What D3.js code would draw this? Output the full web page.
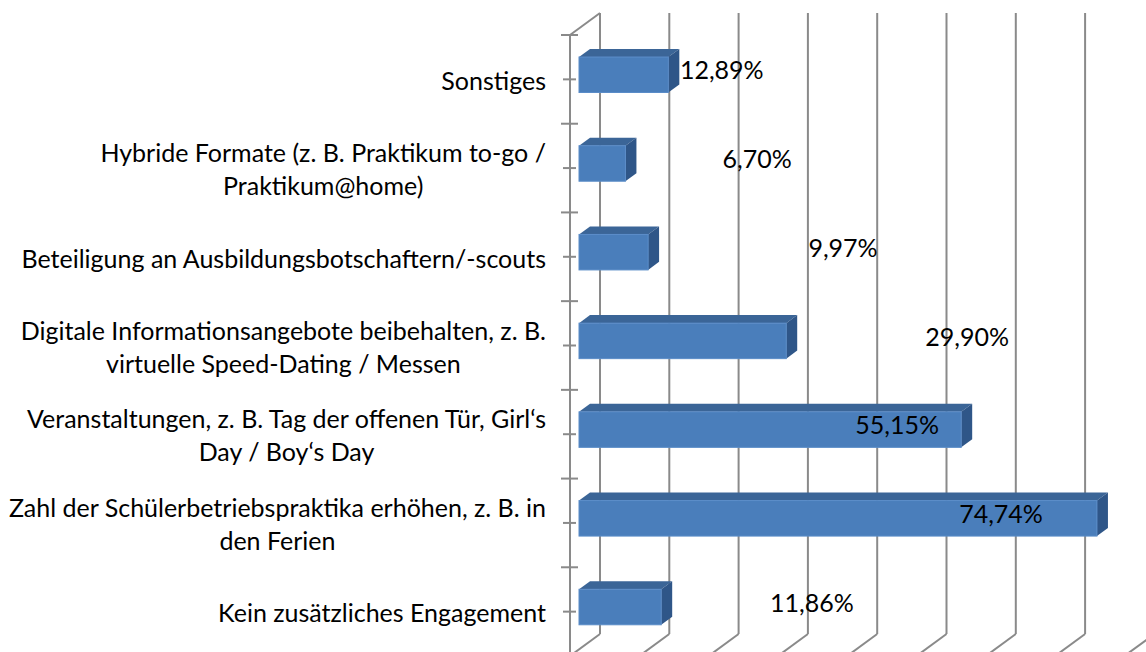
<!DOCTYPE html>
<html>
<head>
<meta charset="utf-8">
<script src="https://cdn.jsdelivr.net/npm/d3@7"></script>
<style>
    body { margin: 0; background: #fff; }
    svg { display: block; font-family: Lato, 'Open Sans', sans-serif; }
</style>
</head>
<body>
<svg width="1146" height="652"></svg>
<script>
// Categories top to bottom (line breaks as in the picture)
const categories = [
    'Sonstiges',
    'Hybride Formate (z. B. Praktikum to-go /\nPraktikum@home)',
    'Beteiligung an Ausbildungsbotschaftern/-scouts',
    'Digitale Informationsangebote beibehalten, z. B.\nvirtuelle Speed-Dating / Messen',
    'Veranstaltungen, z. B. Tag der offenen Tür, Girl‘s\nDay / Boy‘s Day',
    'Zahl der Schülerbetriebspraktika erhöhen, z. B. in\nden Ferien',
    'Kein zusätzliches Engagement'
];
const values = [12.89, 6.70, 9.97, 29.90, 55.15, 74.74, 11.86];
const valueLabels = ['12,89%', '6,70%', '9,97%', '29,90%', '55,15%', '74,74%', '11,86%'];
// where the (manually moved) data labels sit, in axis units
const labelAt = [20.6, 25.7, 38.1, 56.0, 45.9, 60.9, 33.6];
const gridTicks = [0, 10, 20, 30, 40, 50, 60, 70, 80];

function drawChart() {
    const svg = d3.select('svg');
    const top = 35, bottom = 656, left = 570;
    const depth = 30;          // oblique depth of the plot
    const k = 22 / 30;         // vertical rise per unit of depth
    const barFront = 9, barBack = 20;
    const fontSize = '25px';

    const xScale = d3.scaleLinear()
        .domain([0, 80])
        .range([left, left + 554.4]);
    const yBand = d3.scaleBand()
        .domain(categories)
        .range([top, bottom]);
    const yScale = d3.scaleBand()
        .domain(categories)
        .range([top + 2, bottom + 2])
        .paddingInner(0.6)
        .paddingOuter(0.3);

    // projection: value / y on front plane, plus depth d
    const px = (x, d) => x + d;
    const py = (y, d) => y - d * k;

    const grid = svg.append('g')
        .attr('stroke', '#8a8a8a')
        .attr('stroke-width', 2)
        .attr('fill', 'none');

    // back wall gridlines
    grid.selectAll('.gridline')
        .data(gridTicks)
        .join('line')
        .attr('class', 'gridline')
        .attr('x1', d => px(xScale(d), depth))
        .attr('x2', d => px(xScale(d), depth))
        .attr('y1', py(top, depth))
        .attr('y2', py(bottom, depth));

    // floor lines
    grid.selectAll('.floorline')
        .data(gridTicks)
        .join('line')
        .attr('class', 'floorline')
        .attr('x1', d => px(xScale(d), depth))
        .attr('x2', d => xScale(d))
        .attr('y1', py(bottom, depth))
        .attr('y2', bottom);

    // side wall top edge and front axis
    grid.append('line')
        .attr('x1', left).attr('y1', top)
        .attr('x2', px(left, depth)).attr('y2', py(top, depth));
    grid.append('line')
        .attr('x1', left).attr('y1', top)
        .attr('x2', left).attr('y2', bottom);

    // ticks: category boundaries and centers
    const boundaries = categories.map(c => yBand(c)).concat([bottom]);
    grid.selectAll('.tick-major')
        .data(boundaries)
        .join('line')
        .attr('x1', left - 9).attr('x2', left + 8)
        .attr('y1', d => d).attr('y2', d => d);
    grid.selectAll('.tick-minor')
        .data(categories)
        .join('line')
        .attr('x1', left - 7).attr('x2', left + 6)
        .attr('y1', d => yBand(d) + yBand.bandwidth() / 2)
        .attr('y2', d => yBand(d) + yBand.bandwidth() / 2);

    // 3D bars
    const bars = svg.selectAll('.bar')
        .data(categories.map((c, i) => ({ c, v: values[i] })))
        .join('g')
        .attr('class', 'bar');

    const h = yScale.bandwidth();
    const dd = barBack - barFront;
    bars.append('path') // top face
        .attr('fill', '#3b6597')
        .attr('d', d => {
            const x0 = px(xScale(0), barFront), x1 = px(xScale(d.v), barFront);
            const y0 = py(yScale(d.c), barFront);
            return `M${x0},${y0}L${x1},${y0}L${x1 + dd},${y0 - dd * k}L${x0 + dd},${y0 - dd * k}Z`;
        });
    bars.append('path') // side face
        .attr('fill', '#2f5688')
        .attr('d', d => {
            const x1 = px(xScale(d.v), barFront);
            const y0 = py(yScale(d.c), barFront);
            return `M${x1},${y0}L${x1 + dd},${y0 - dd * k}L${x1 + dd},${y0 + h - dd * k}L${x1},${y0 + h}Z`;
        });
    bars.append('rect') // front face
        .attr('x', px(xScale(0), barFront))
        .attr('y', d => py(yScale(d.c), barFront))
        .attr('width', d => xScale(d.v) - xScale(0))
        .attr('height', h)
        .attr('fill', '#4a7ebb')
        .attr('stroke', '#5a8cc8')
        .attr('stroke-width', 1);

    // data labels
    svg.selectAll('.value-label')
        .data(categories)
        .join('text')
        .attr('class', 'value-label')
        .attr('x', (c, i) => px(xScale(labelAt[i]), barFront))
        .attr('y', c => py(yScale(c) + h / 2, (barFront + barBack) / 2))
        .attr('dy', '0.35em')
        .attr('text-anchor', 'middle')
        .style('font-size', fontSize)
        .attr('fill', '#000')
        .text((c, i) => valueLabels[i]);

    // category labels: block right-aligned, lines centered inside the block
    const labelRight = 546;
    const lineHeight = 33;
    categories.forEach(c => {
        const lines = c.split('\n');
        const g = svg.append('g').attr('class', 'cat-label');
        const texts = lines.map((line, j) => g.append('text')
            .text(line)
            .style('font-size', fontSize)
            .attr('fill', '#000')
            .attr('text-anchor', 'middle')
            .attr('dy', '0.35em')
            .attr('y', yBand(c) + yBand.bandwidth() / 2 + 2 + (j - (lines.length - 1) / 2) * lineHeight));
        const maxW = d3.max(texts, t => t.node().getComputedTextLength());
        texts.forEach(t => t.attr('x', labelRight - maxW / 2));
    });
}

window.addEventListener('load', drawChart);
</script>
</body>
</html>
